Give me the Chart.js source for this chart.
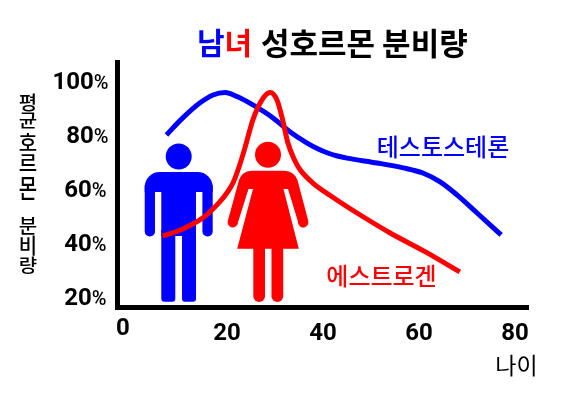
<!DOCTYPE html>
<html>
<head>
<meta charset="utf-8">
<script src="https://cdn.jsdelivr.net/npm/chart.js@4"></script>
<style>
html, body { margin: 0; padding: 0; background: #fff; }
#wrap { width: 580px; height: 396px; }
</style>
</head>
<body>
<div id="wrap"><canvas id="myChart" width="580" height="396"></canvas></div>
<script>
// values
const testoAge = [7.4, 10.8, 14.4, 17.1, 19.6, 22.1, 25.4, 29.6, 33.1, 36.7, 38.8, 41, 43, 45, 51.3, 56.7, 60.8, 64.4, 67.9, 72.1, 77.1];
const testoVal = [80, 86.3, 91.9, 94.8, 95.7, 94.2, 91.1, 86.3, 81.2, 77, 75, 73.3, 72.2, 71.4, 69.6, 67.8, 65.9, 62.6, 57.8, 51.1, 43];
const estroAge = [6.6, 10.8, 15, 18.5, 19.9, 21.25, 22.3, 23.75, 25.4, 27.3, 29, 30.4, 31.5, 32.7, 34, 35.2, 37.9, 41.5, 47.1, 54, 61.25, 68.5];
const estroVal = [42.6, 45.2, 49.3, 55.2, 58.3, 62.2, 67, 75.2, 85.6, 93, 95.7, 93, 86.3, 77, 71, 67.2, 62.2, 57.6, 51.1, 43.7, 36.8, 29.3];
const xTicks = [0, 20, 40, 60, 80];
const yTicks = [20, 40, 60, 80, 100];
const yTitleLetters = ['평', '균', '호', '르', '몬', '분', '비', '량'];

const BLUE = '#0000ff';
const RED = '#ff0000';
const KR = '"Noto Sans CJK KR"';

function toPoints(xs, ys) {
    return xs.map((x, i) => ({ x: x, y: ys[i] }));
}

function roundBar(ctx, x, y, w, h, r) {
    ctx.beginPath();
    ctx.roundRect(x, y, w, h, r);
    ctx.fill();
}

function drawMan(ctx) {
    ctx.fillStyle = BLUE;
    ctx.beginPath();
    ctx.arc(178.7, 156.5, 13, 0, Math.PI * 2);
    ctx.fill();
    roundBar(ctx, 144.7, 172, 68, 20, [15, 15, 0, 0]);
    roundBar(ctx, 144.7, 185, 10.3, 51.5, [0, 0, 5, 5]);
    roundBar(ctx, 202.4, 185, 10.3, 51.5, [0, 0, 5, 5]);
    ctx.fillRect(161.3, 185, 34.7, 51);
    roundBar(ctx, 161.3, 230, 14, 71.7, [0, 0, 3, 3]);
    roundBar(ctx, 182, 230, 14, 71.7, [0, 0, 3, 3]);
}

function drawWoman(ctx) {
    ctx.fillStyle = RED;
    ctx.beginPath();
    ctx.arc(268, 154.7, 13, 0, Math.PI * 2);
    ctx.fill();
    ctx.beginPath();
    ctx.moveTo(251.7, 170.7);
    ctx.lineTo(284.3, 170.7);
    ctx.quadraticCurveTo(294, 171, 297.5, 180);
    ctx.lineTo(308.2, 220.5);
    ctx.arc(303.2, 222.3, 5.2, -0.3, Math.PI + 0.1);
    ctx.lineTo(288, 189);
    ctx.lineTo(283.5, 189);
    ctx.lineTo(298.8, 248.7);
    ctx.lineTo(237.2, 248.7);
    ctx.lineTo(253, 189);
    ctx.lineTo(248.5, 189);
    ctx.lineTo(237.8, 223);
    ctx.arc(232.8, 222.3, 5.2, -0.1, Math.PI + 0.3, false);
    ctx.lineTo(239, 180);
    ctx.quadraticCurveTo(242, 171, 251.7, 170.7);
    ctx.fill();
    roundBar(ctx, 253.3, 245, 11.7, 57, [0, 0, 5.8, 5.8]);
    roundBar(ctx, 271.5, 245, 11.7, 57, [0, 0, 5.8, 5.8]);
}

// text the library cannot lay out itself: mixed weights and stacked letters
function drawRun(ctx, text, x, y, font, color) {
    ctx.font = font;
    ctx.fillStyle = color;
    ctx.fillText(text, x, y);
    return x + ctx.measureText(text).width;
}

const figures = {
    id: 'figures',
    beforeDatasetsDraw(chart) {
        const ctx = chart.ctx;
        ctx.save();
        drawMan(ctx);
        drawWoman(ctx);
        ctx.restore();
    },
    afterDraw(chart) {
        const ctx = chart.ctx;
        const yScale = chart.scales.y;
        const xScale = chart.scales.x;
        ctx.save();
        ctx.textBaseline = 'middle';
        ctx.textAlign = 'left';

        // title
        let tx = drawRun(ctx, '남', 197, 43, 'bold 30px ' + KR, BLUE);
        tx = drawRun(ctx, '녀', tx, 43, 'bold 30px ' + KR, RED);
        drawRun(ctx, '성호르몬 분비량', 261, 43, 'bold 31px ' + KR, '#000');

        // y tick labels, digits bold and percent sign lighter
        yTicks.forEach(v => {
            const py = yScale.getPixelForValue(v) + 2;
            ctx.font = '500 20px Roboto';
            const pw = ctx.measureText('%').width;
            ctx.font = 'bold 24px Roboto';
            const dw = ctx.measureText(String(v)).width;
            const right = v === 100 || v === 80 ? 108.5 : 106.5;
            ctx.fillStyle = '#000';
            ctx.fillText(String(v), right - pw - dw, py);
            ctx.font = '500 20px Roboto';
            ctx.fillText('%', right - pw, py + 1);
        });

        // the zero sits apart from the other x ticks
        ctx.font = 'bold 24px Roboto';
        ctx.textAlign = 'center';
        ctx.fillStyle = '#000';
        ctx.fillText('0', xScale.getPixelForValue(0) - 8, 329);

        // series names and axis names
        ctx.font = '500 24px ' + KR;
        ctx.fillStyle = BLUE;
        ctx.fillText('테스토스테론', 443, 147);
        ctx.fillStyle = RED;
        ctx.fillText('에스트로겐', 381.5, 276);
        ctx.font = '23px ' + KR;
        ctx.fillStyle = '#000';
        ctx.fillText('나이', 516.5, 365);

        // y title stacked one letter at a time, the letters are stretched unevenly
        ctx.font = '500 20px ' + KR;
        const letterY = [102.5, 120, 142.5, 163, 188, 226, 245, 265];
        const letterStretch = [0.95, 0.9, 1.05, 1.1, 1.3, 0.95, 1.05, 0.9];
        yTitleLetters.forEach((ch, i) => {
            ctx.save();
            ctx.translate(28, letterY[i]);
            ctx.scale(1, letterStretch[i]);
            ctx.fillText(ch, 0, 0);
            ctx.restore();
        });
        ctx.restore();
    }
};

const ctx = document.getElementById('myChart').getContext('2d');
const myChart = new Chart(ctx, {
    type: 'line',
    plugins: [figures],
    data: {
        datasets: [
            {
                label: '에스트로겐',
                data: toPoints(estroAge, estroVal),
                borderColor: RED,
                borderWidth: 5,
                pointRadius: 0,
                cubicInterpolationMode: 'monotone',
                fill: false
            },
            {
                label: '테스토스테론',
                data: toPoints(testoAge, testoVal),
                borderColor: BLUE,
                borderWidth: 5,
                pointRadius: 0,
                cubicInterpolationMode: 'monotone',
                fill: false
            }
        ]
    },
    options: {
        responsive: false,
        animation: false,
        layout: { padding: { left: 117, right: 52, top: 62, bottom: 0 } },
        plugins: {
            legend: { display: false },
            tooltip: { enabled: false }
        },
        scales: {
            x: {
                type: 'linear',
                min: -2.9,
                max: 82.7,
                afterBuildTicks: axis => { axis.ticks = xTicks.map(v => ({ value: v })); },
                afterFit: axis => { axis.height = 89; },
                grid: { drawOnChartArea: false, drawTicks: false },
                border: { color: '#000', width: 5 },
                ticks: {
                    autoSkip: false,
                    maxRotation: 0,
                    color: '#000',
                    padding: 13,
                    font: { family: 'Roboto', weight: 'bold', size: 24 },
                    callback: v => (v === 0 ? '' : String(v))
                }
            },
            y: {
                type: 'linear',
                min: 16.3,
                max: 107,
                afterBuildTicks: axis => { axis.ticks = yTicks.map(v => ({ value: v })); },
                afterFit: axis => { axis.width = 0; },
                grid: { drawOnChartArea: false, drawTicks: false },
                border: { color: '#000', width: 5 },
                ticks: { display: false }
            }
        }
    }
});
</script>
</body>
</html>
